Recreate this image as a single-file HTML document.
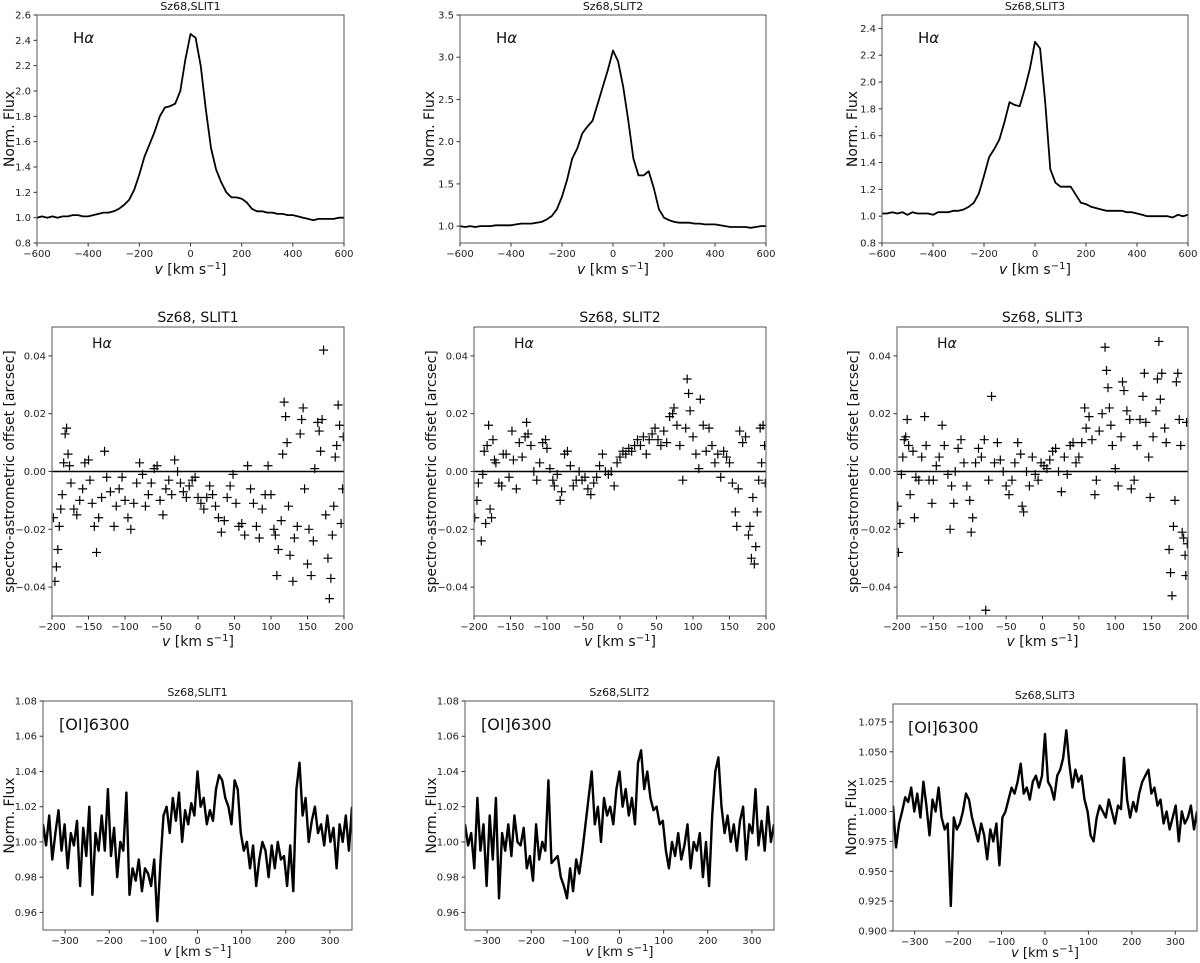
<!DOCTYPE html>
<html><head><meta charset="utf-8"><style>
body{margin:0;background:#fff;}
svg{display:block;font-family:"DejaVu Sans","Liberation Sans",sans-serif;}
</style></head><body>
<svg id="fig" width="1200" height="963" viewBox="0 0 1200 963" xmlns="http://www.w3.org/2000/svg"></svg>
<script>
const haV=[-600,-580,-560,-540,-520,-500,-480,-460,-440,-420,-400,-380,-360,-340,-320,-300,-280,-260,-240,-220,-200,-180,-160,-140,-120,-100,-80,-60,-40,-20,0,20,40,60,80,100,120,140,160,180,200,220,240,260,280,300,320,340,360,380,400,420,440,460,480,500,520,540,560,580,600];
const ha1=[1.00,1.01,1.00,1.01,1.00,1.01,1.01,1.02,1.02,1.01,1.01,1.02,1.03,1.04,1.04,1.05,1.07,1.10,1.14,1.22,1.34,1.48,1.58,1.68,1.80,1.87,1.88,1.90,2.00,2.25,2.45,2.42,2.20,1.85,1.55,1.38,1.28,1.20,1.16,1.16,1.15,1.12,1.07,1.05,1.05,1.04,1.04,1.03,1.03,1.02,1.02,1.01,1.00,0.99,0.98,0.99,0.99,0.99,0.99,1.00,1.00];
const ha2=[1.00,0.99,1.00,0.99,1.00,1.00,1.00,1.01,1.01,1.01,1.01,1.02,1.03,1.03,1.03,1.04,1.05,1.08,1.12,1.20,1.35,1.55,1.80,1.92,2.10,2.18,2.25,2.45,2.65,2.85,3.08,2.95,2.65,2.25,1.80,1.60,1.60,1.65,1.45,1.20,1.10,1.07,1.05,1.04,1.04,1.04,1.03,1.03,1.02,1.02,1.02,1.01,1.00,0.99,0.99,0.99,0.99,0.98,0.99,1.00,1.00];
const ha3=[1.02,1.02,1.03,1.02,1.03,1.01,1.03,1.02,1.02,1.02,1.01,1.03,1.03,1.03,1.04,1.04,1.05,1.07,1.10,1.17,1.30,1.44,1.50,1.57,1.70,1.85,1.83,1.82,1.95,2.10,2.30,2.25,1.85,1.35,1.25,1.22,1.22,1.22,1.16,1.10,1.09,1.07,1.06,1.05,1.04,1.04,1.04,1.04,1.03,1.03,1.02,1.01,1.00,1.00,1.00,1.00,1.00,0.99,1.01,1.00,1.01];

const oiStart=-350, oiStep=7;
const oi1=[1.010,0.998,1.015,0.990,1.005,1.018,0.995,1.010,0.985,1.005,0.998,1.012,0.975,1.008,0.992,1.020,0.970,1.005,0.995,1.015,0.995,1.030,0.992,1.008,0.980,1.000,0.995,1.028,0.970,0.985,0.978,0.990,0.972,0.985,0.982,0.975,0.990,0.955,0.988,1.015,1.020,1.005,1.025,1.012,1.028,1.000,1.018,1.010,1.022,1.015,1.040,1.020,1.025,1.010,1.018,1.012,1.030,1.038,1.035,1.025,1.020,1.010,1.035,1.030,1.005,0.995,1.000,0.985,0.998,0.975,0.990,1.000,0.995,0.980,0.998,0.985,1.000,0.990,0.992,0.975,0.998,0.972,1.030,1.045,1.015,1.025,1.000,1.012,1.020,1.005,1.010,0.998,1.015,1.000,1.008,0.985,1.010,1.000,1.015,0.995,1.020];
const oi2=[1.010,0.998,1.005,0.985,1.025,0.995,1.010,0.975,1.015,0.990,1.025,0.968,1.005,0.995,1.010,0.992,1.015,1.000,0.998,1.008,0.985,0.992,0.978,1.010,0.990,1.000,0.995,1.035,0.988,0.990,0.992,0.980,0.975,0.968,0.985,0.972,0.990,0.982,0.995,1.010,1.025,1.040,1.010,1.020,1.000,1.025,1.015,1.020,1.010,1.030,1.040,1.020,1.030,1.015,1.025,1.010,1.045,1.052,1.030,1.040,1.025,1.018,1.020,1.010,1.012,0.995,0.985,1.000,0.992,1.005,0.990,0.998,1.010,0.985,1.000,0.995,1.005,0.980,1.000,0.975,1.015,1.040,1.048,1.020,1.005,1.015,1.000,1.010,0.995,1.012,1.020,0.990,1.010,1.005,1.030,0.998,1.012,0.995,1.020,1.000,1.010];
const oi3=[1.005,0.970,0.990,1.000,1.012,1.008,1.020,1.000,1.015,0.995,1.025,1.005,0.980,1.010,1.000,1.020,0.995,0.985,0.990,0.921,0.995,0.985,0.990,1.000,1.015,1.010,0.995,0.985,0.975,0.990,0.980,0.960,0.985,0.975,0.990,0.955,0.995,1.000,1.010,1.020,1.015,1.025,1.040,1.015,1.020,1.010,1.025,1.030,1.020,1.030,1.065,1.025,1.020,1.010,1.030,1.035,1.045,1.068,1.040,1.020,1.035,1.025,1.030,1.010,1.000,0.980,0.975,0.995,1.005,1.000,0.995,1.010,1.000,0.990,1.005,1.002,1.045,1.010,0.995,1.008,1.000,1.015,1.025,1.030,1.035,1.015,1.020,1.005,1.010,0.990,1.000,0.985,0.995,1.005,0.975,1.000,0.990,0.995,1.005,0.985,1.000];

const sa1V=[-198,-196,-194,-192,-190,-188,-186,-184,-182,-180,-178,-176,-174,-170,-166,-162,-158,-155,-150,-148,-145,-142,-139,-136,-132,-128,-125,-120,-115,-112,-108,-104,-100,-96,-92,-88,-84,-80,-76,-72,-68,-64,-60,-56,-52,-48,-44,-40,-36,-32,-28,-24,-20,-16,-12,-8,-4,0,4,8,12,16,20,24,28,32,36,40,44,48,52,56,60,64,68,72,76,80,84,88,92,96,100,104,106,108,110,114,116,118,120,122,124,126,130,132,136,140,142,144,146,150,152,155,158,160,164,166,168,170,172,175,178,180,182,184,186,188,190,192,194,196,198,199];
const sa1Y=[-0.016,-0.038,-0.033,-0.027,-0.019,-0.013,-0.008,0.003,0.013,0.015,0.006,0.002,-0.004,-0.013,-0.015,-0.010,-0.006,0.003,0.004,-0.003,-0.011,-0.019,-0.028,-0.016,-0.009,0.007,-0.002,-0.007,-0.019,-0.012,-0.006,-0.002,-0.010,-0.016,-0.020,-0.011,-0.004,0.003,-0.001,-0.012,-0.008,-0.004,0.001,0.002,-0.010,-0.015,-0.006,-0.003,-0.008,0.004,0.000,-0.004,-0.007,-0.009,-0.005,-0.003,-0.002,-0.009,-0.011,-0.013,-0.009,-0.005,-0.008,-0.012,-0.016,-0.021,-0.017,-0.009,-0.005,-0.001,-0.011,-0.019,-0.018,-0.022,0.002,-0.006,-0.011,-0.019,-0.023,-0.013,-0.008,0.002,-0.008,-0.020,-0.022,-0.036,-0.027,-0.017,0.006,0.024,0.019,0.010,-0.012,-0.029,-0.038,-0.023,-0.019,0.013,0.018,0.022,-0.006,-0.032,-0.020,-0.036,-0.024,0.001,0.017,0.014,0.007,0.018,0.042,-0.015,-0.030,-0.044,-0.037,-0.022,-0.012,0.005,0.009,0.023,0.016,-0.018,-0.006,0.012];
const sa2V=[-199,-196,-194,-190,-188,-186,-184,-182,-180,-178,-176,-174,-172,-170,-166,-162,-160,-156,-152,-148,-146,-142,-138,-134,-130,-128,-126,-122,-118,-114,-110,-106,-102,-100,-96,-92,-90,-86,-82,-80,-76,-72,-68,-64,-60,-56,-52,-48,-44,-40,-36,-32,-28,-24,-20,-16,-12,-8,-4,0,4,8,12,16,20,24,28,32,36,40,44,48,52,56,60,64,68,72,74,78,82,86,90,92,94,96,100,104,108,110,114,118,122,126,130,134,138,142,146,150,154,158,160,162,164,168,172,176,178,180,182,184,186,188,190,192,194,196,198,199];
const sa2Y=[-0.016,-0.010,-0.004,-0.024,-0.001,0.007,-0.018,0.009,0.016,-0.013,-0.016,0.011,0.004,0.003,-0.004,-0.005,0.006,0.006,-0.002,0.014,0.004,-0.006,0.010,0.005,0.012,0.017,0.013,0.009,0.000,-0.003,0.003,0.010,0.011,0.008,0.001,-0.003,-0.005,-0.001,-0.010,-0.007,0.006,0.007,0.002,-0.005,-0.003,0.000,-0.003,-0.002,-0.006,-0.008,-0.004,-0.002,0.002,0.006,0.000,-0.001,0.000,-0.005,0.003,0.005,0.007,0.006,0.008,0.007,0.009,0.011,0.009,0.012,0.006,0.011,0.013,0.015,0.011,0.009,0.014,0.010,0.019,0.020,0.022,0.016,0.009,-0.003,0.015,0.032,0.027,0.021,0.012,0.006,0.001,0.025,0.016,0.007,0.015,0.009,0.003,0.006,-0.002,0.007,0.005,0.003,-0.004,-0.014,-0.019,-0.006,0.014,0.010,0.012,-0.022,-0.019,-0.030,-0.009,-0.032,-0.026,-0.014,-0.003,0.015,0.003,0.016,0.009,-0.004];
const sa3V=[-199,-198,-196,-194,-192,-190,-188,-186,-184,-182,-178,-176,-174,-170,-166,-162,-160,-156,-152,-150,-146,-142,-138,-135,-130,-127,-125,-122,-120,-116,-112,-108,-104,-100,-98,-96,-92,-88,-84,-80,-78,-74,-70,-66,-62,-58,-54,-50,-46,-42,-38,-34,-30,-28,-26,-22,-18,-14,-10,-6,-2,2,6,10,14,18,22,26,30,34,38,42,46,50,54,58,60,64,68,72,74,78,82,86,88,90,92,94,96,100,104,108,110,112,116,120,122,126,130,134,138,140,142,146,148,152,156,158,160,162,164,168,170,174,176,178,180,182,184,186,188,190,192,194,196,197,198,199];
const sa3Y=[-0.012,-0.028,-0.018,-0.001,0.005,0.011,0.012,0.018,0.009,-0.008,0.007,-0.016,-0.002,-0.003,0.005,0.019,0.009,-0.003,-0.011,-0.003,0.002,0.005,0.016,0.009,-0.001,-0.020,-0.005,-0.011,0.000,0.008,0.011,0.003,-0.005,-0.010,-0.021,-0.016,0.003,0.008,0.005,0.011,-0.048,-0.003,0.026,0.003,0.010,0.004,0.000,-0.005,-0.008,-0.003,0.003,0.010,0.006,-0.012,-0.014,0.000,-0.005,0.005,-0.001,-0.003,0.003,0.002,0.001,0.004,0.007,0.008,0.000,-0.007,0.005,-0.001,0.009,0.010,0.003,0.005,0.010,0.022,0.015,0.019,0.011,-0.008,-0.003,0.014,0.020,0.043,0.035,0.029,0.022,0.016,0.009,0.001,-0.005,0.012,0.031,0.028,0.021,0.018,-0.006,-0.003,0.009,0.018,0.026,0.034,0.017,0.005,-0.009,0.012,0.021,0.032,0.045,0.025,0.034,0.015,0.010,-0.027,-0.035,-0.043,-0.019,-0.010,0.031,0.034,0.018,0.009,-0.021,-0.023,-0.029,-0.036,0.017,-0.025];

const NS="http://www.w3.org/2000/svg";
const svg=document.getElementById('fig');
function mk(tag,attrs,parent){const e=document.createElementNS(NS,tag);for(const k in attrs)e.setAttribute(k,attrs[k]);(parent||svg).appendChild(e);return e;}
function txt(s,attrs,parent){const e=mk('text',attrs,parent);e.textContent=s;return e;}

function panel(p){
  const g=mk('g',{});
  
  
  const X=v=>p.x0+(v-p.xmin)/(p.xmax-p.xmin)*(p.x1-p.x0);
  const Y=v=>p.y1-(v-p.ymin)/(p.ymax-p.ymin)*(p.y1-p.y0);
  const clipId='c'+p.name;
  const cp=mk('clipPath',{id:clipId},g);mk('rect',{x:p.x0,y:p.y0,width:p.x1-p.x0,height:p.y1-p.y0},cp);
  const data=mk('g',{'clip-path':'url(#'+clipId+')'},g);
  if(p.line){
    let d='';p.line.ys.forEach((y,i)=>{d+=(i?'L':'M')+X(p.line.xs[i]).toFixed(1)+','+Y(y).toFixed(1);});
    const l=mk('path',{d:d,fill:'none',stroke:'#000','stroke-width':p.lw||1.8,'stroke-linejoin':'round'},data);
    
    
  }
  if(p.pts){
    const zl=mk('line',{x1:p.x0,x2:p.x1,y1:Y(0),y2:Y(0),stroke:'#000','stroke-width':1.6},data);
    
    
    p.pts.xs.forEach((v,i)=>{const cx=X(v),cy=Y(p.pts.ys[i]);
      const m=mk('path',{d:`M${cx-4.5},${cy}h9M${cx},${cy-4.5}v9`,stroke:'#000','stroke-width':1.2},data);
      
      });
  }
  const fr=mk('rect',{x:p.x0,y:p.y0,width:p.x1-p.x0,height:p.y1-p.y0,fill:'none',stroke:'#555','stroke-width':1},g);
  
  
  p.xt.forEach(t=>{const x=X(t);mk('line',{x1:x,x2:x,y1:p.y1,y2:p.y1+3.5,stroke:'#333'},g);
    const e=txt(String(t).replace('-','\u2212'),{x:x,y:p.y1+14,'font-size':10,'text-anchor':'middle',fill:'#222'},g);
    
    });
  p.yt.forEach(t=>{const y=Y(t);mk('line',{x1:p.x0-3.5,x2:p.x0,y1:y,y2:y,stroke:'#333'},g);
    const e=txt(t.toFixed(p.yd).replace('-','\u2212'),{x:p.x0-6,y:y+3.5,'font-size':10,'text-anchor':'end',fill:'#222'},g);
    
    });
  const tt=txt(p.title,{x:(p.x0+p.x1)/2,y:p.y0-5,'font-size':p.tfs,'text-anchor':'middle',fill:'#111'},g);
  
  
  const xl=mk('text',{x:(p.x0+p.x1)/2,y:p.y1+(p.xlo||31),'font-size':p.xfs||14,'text-anchor':'middle',fill:'#111'},g);
  xl.innerHTML='<tspan font-style="italic">v</tspan> [km s<tspan dy="-5" font-size="10">\u22121</tspan><tspan dy="5">]</tspan>';
  
  
  const yl=txt(p.ylab,{x:0,y:0,'font-size':14,'text-anchor':'middle',fill:'#111',transform:`translate(${p.ylx},${(p.y0+p.y1)/2}) rotate(-90)`},g);
  
  
  const an=mk('text',{x:p.ax,y:p.ay,'font-size':p.afs,fill:'#111'},g);
  an.innerHTML=p.ann;
  
  
}
const oiV=oi1.map((_,i)=>oiStart+i*oiStep);
const haTicksX=[-600,-400,-200,0,200,400,600];
const saTicksX=[-200,-150,-100,-50,0,50,100,150,200];
const saTicksY=[-0.04,-0.02,0,0.02,0.04];
const oiTicksX=[-300,-200,-100,0,100,200,300];
const HA='H<tspan font-style="italic">\u03b1</tspan>';
const row1=[{x0:37,x1:344,ymax:2.6,yt:[0.8,1.0,1.2,1.4,1.6,1.8,2.0,2.2,2.4,2.6],yd:1,d:ha1,t:'Sz68,SLIT1',ylx:14,ax:73},
            {x0:460,x1:766,ymax:3.5,yt:[1.0,1.5,2.0,2.5,3.0,3.5],yd:1,d:ha2,t:'Sz68,SLIT2',ylx:434,ax:496},
            {x0:882,x1:1188,ymax:2.5,yt:[0.8,1.0,1.2,1.4,1.6,1.8,2.0,2.2,2.4],yd:1,d:ha3,t:'Sz68,SLIT3',ylx:857,ax:918}];
row1.forEach((r,i)=>panel({name:'halpha-profile-slit'+(i+1),x0:r.x0,x1:r.x1,y0:15,y1:243,xmin:-600,xmax:600,ymin:0.8,ymax:r.ymax,xt:haTicksX,yt:r.yt,yd:r.yd,line:{xs:haV,ys:r.d},title:r.t,tfs:11,ylab:'Norm. Flux',ylx:r.ylx,ax:r.ax,ay:43,afs:15,ann:HA,xlo:31}));
const row2=[{x0:52,x1:344,xs:sa1V,ys:sa1Y,t:'Sz68, SLIT1',ylx:14,ax:92},
            {x0:474,x1:766,xs:sa2V,ys:sa2Y,t:'Sz68, SLIT2',ylx:436,ax:514},
            {x0:897,x1:1188,xs:sa3V,ys:sa3Y,t:'Sz68, SLIT3',ylx:858,ax:937}];
row2.forEach((r,i)=>panel({name:'spectro-astrometry-slit'+(i+1),x0:r.x0,x1:r.x1,y0:327,y1:616,xmin:-200,xmax:200,ymin:-0.05,ymax:0.05,xt:saTicksX,yt:saTicksY,yd:2,pts:{xs:r.xs,ys:r.ys},title:r.t,tfs:14,ylab:'spectro-astrometric offset [arcsec]',ylx:r.ylx,ax:r.ax,ay:348,afs:14,ann:HA,xlo:30}));
const row3=[{x0:43,x1:352,y0:701,y1:930,ymin:0.95,ymax:1.08,yt:[0.96,0.98,1.00,1.02,1.04,1.06,1.08],yd:2,d:oi1,t:'Sz68,SLIT1',ylx:14,ax:59},
            {x0:465,x1:774,y0:701,y1:930,ymin:0.95,ymax:1.08,yt:[0.96,0.98,1.00,1.02,1.04,1.06,1.08],yd:2,d:oi2,t:'Sz68,SLIT2',ylx:436,ax:481},
            {x0:893,x1:1197,y0:704,y1:931,ymin:0.9,ymax:1.09,yt:[0.9,0.925,0.95,0.975,1.0,1.025,1.05,1.075],yd:3,d:oi3,t:'Sz68,SLIT3',ylx:856,ax:908}];
row3.forEach((r,i)=>panel({name:'oi6300-profile-slit'+(i+1),x0:r.x0,x1:r.x1,y0:r.y0,y1:r.y1,xmin:-350,xmax:350,ymin:r.ymin,ymax:r.ymax,xt:oiTicksX,yt:r.yt,yd:r.yd,line:{xs:oiV,ys:r.d},lw:2.4,title:r.t,tfs:11,ylab:'Norm. Flux',ylx:r.ylx,ax:r.ax,ay:r.y0+29,afs:16,ann:'[OI]6300',xlo:26,xfs:13}));
</script>
</body></html>
